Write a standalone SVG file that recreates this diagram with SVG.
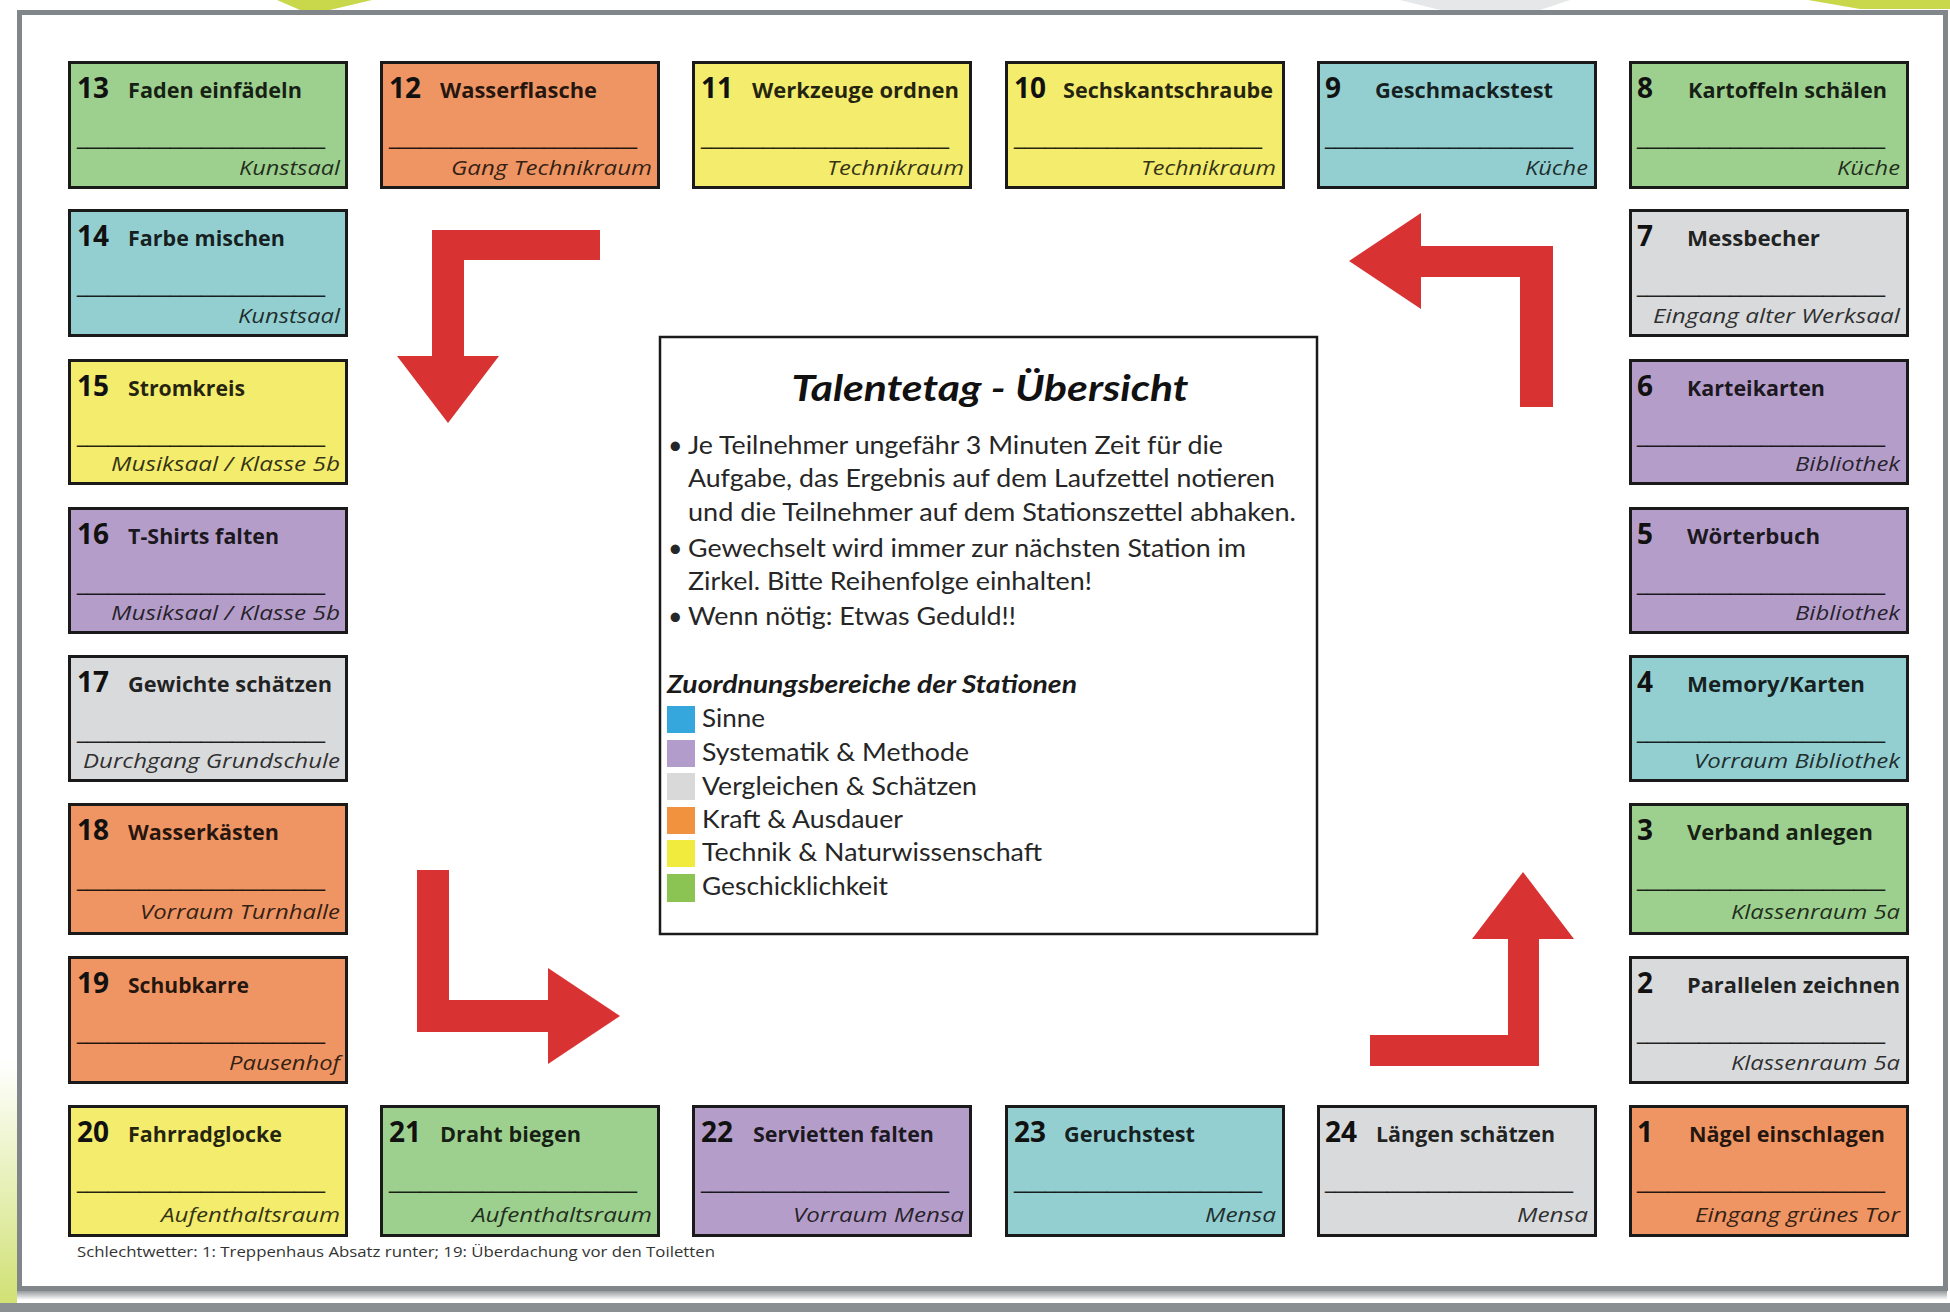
<svg xmlns="http://www.w3.org/2000/svg" width="1950" height="1312" viewBox="0 0 1950 1312">
<defs>
<linearGradient id="leftDeco" x1="0" y1="0" x2="0" y2="1">
<stop offset="0" stop-color="#ffffff"/>
<stop offset="1" stop-color="#cfe070"/>
</linearGradient>
<linearGradient id="shadow" x1="0" y1="0" x2="0" y2="1">
<stop offset="0" stop-color="#8a8f92"/>
<stop offset="1" stop-color="#ffffff"/>
</linearGradient>
</defs>
<style>
.box{stroke:#1a1a1a;stroke-width:3}
.green{fill:#9dd08e}.orange{fill:#ee9563}.yellow{fill:#f3ec6c}.teal{fill:#93cfd0}.gray{fill:#d9dadc}.purple{fill:#b49ec9}
.num{font-family:"Open Sans","Liberation Sans",sans-serif;font-weight:700;font-size:28px;fill:#111}
.name{font-family:"Open Sans","Liberation Sans",sans-serif;font-weight:700;font-size:21px;fill:#000;fill-opacity:.85}
.ul{font-family:"Liberation Sans",sans-serif;font-size:23px;fill:#000;fill-opacity:.85;transform:translate(0,-2px)}
.loc{font-family:"Open Sans","Liberation Sans",sans-serif;font-style:italic;font-size:20px;fill:#000;fill-opacity:.8;text-anchor:end}
.arrow{fill:#d93232}
.ctext{font-family:Lato,"Open Sans",sans-serif;font-size:25px;fill:#262626}
.title{font-family:Lato,"Open Sans",sans-serif;font-size:37px;font-weight:700;font-style:italic;fill:#111;text-anchor:middle}
.sub{font-family:Lato,"Open Sans",sans-serif;font-size:24px;font-weight:700;font-style:italic;fill:#1a1a1a}
.foot{font-family:"Open Sans","Liberation Sans",sans-serif;font-size:14px;fill:#333}
</style>

<!-- background decorations -->
<rect x="0" y="0" width="1950" height="1312" fill="#ffffff"/>
<polygon points="277,0 372,0 330,10 300,10" fill="#c9d84a"/>
<polygon points="1400,0 1570,0 1540,10 1440,10" fill="#e6e7e8"/>
<polygon points="1808,0 1950,0 1950,9 1860,9" fill="#c9d84a"/>
<rect x="0" y="1060" width="17" height="252" fill="url(#leftDeco)"/>
<rect x="17" y="1290" width="1930" height="10" fill="url(#shadow)"/>
<rect x="0" y="1303" width="1950" height="9" fill="#8a8f92"/>

<!-- page -->
<rect x="19.5" y="12.5" width="1926" height="1276" fill="#ffffff" stroke="#80868a" stroke-width="5"/>

<!-- connectors (red arrows) -->
<g id="connectors">
<polygon class="arrow" points="432,230 600,230 600,260 464,260 464,356 499,356 448,423 397,356 432,356"/>
<polygon class="arrow" points="417,870 449,870 449,1000 548,1000 548,968 620,1016 548,1064 548,1032 417,1032"/>
<polygon class="arrow" points="1370,1035 1508,1035 1508,939 1472,939 1523,872 1574,939 1539,939 1539,1066 1370,1066"/>
<polygon class="arrow" points="1553,246 1553,407 1520,407 1520,277 1421,277 1421,309 1349,261 1421,213 1421,246"/>
</g>

<!-- top row -->
<g id="station-13">
<rect class="box green" x="69.5" y="62.5" width="277" height="125"/>
<text class="num" x="77" y="98">13</text>
<text class="name" x="128" y="98" textLength="174" lengthAdjust="spacingAndGlyphs">Faden einfädeln</text>
<text class="ul" x="77" y="146" textLength="248" lengthAdjust="spacingAndGlyphs">________________________</text>
<text class="loc" x="340" y="175" textLength="101" lengthAdjust="spacingAndGlyphs">Kunstsaal</text>
</g>
<g id="station-12">
<rect class="box orange" x="381.5" y="62.5" width="277" height="125"/>
<text class="num" x="389" y="98">12</text>
<text class="name" x="440" y="98" textLength="157" lengthAdjust="spacingAndGlyphs">Wasserflasche</text>
<text class="ul" x="389" y="146" textLength="248" lengthAdjust="spacingAndGlyphs">________________________</text>
<text class="loc" x="652" y="175" textLength="201" lengthAdjust="spacingAndGlyphs">Gang Technikraum</text>
</g>
<g id="station-11">
<rect class="box yellow" x="693.5" y="62.5" width="277" height="125"/>
<text class="num" x="701" y="98">11</text>
<text class="name" x="752" y="98" textLength="207" lengthAdjust="spacingAndGlyphs">Werkzeuge ordnen</text>
<text class="ul" x="701" y="146" textLength="248" lengthAdjust="spacingAndGlyphs">________________________</text>
<text class="loc" x="964" y="175" textLength="137" lengthAdjust="spacingAndGlyphs">Technikraum</text>
</g>
<g id="station-10">
<rect class="box yellow" x="1006.5" y="62.5" width="277" height="125"/>
<text class="num" x="1014" y="98">10</text>
<text class="name" x="1063" y="98" textLength="210" lengthAdjust="spacingAndGlyphs">Sechskantschraube</text>
<text class="ul" x="1014" y="146" textLength="248" lengthAdjust="spacingAndGlyphs">________________________</text>
<text class="loc" x="1276" y="175" textLength="135" lengthAdjust="spacingAndGlyphs">Technikraum</text>
</g>
<g id="station-9">
<rect class="box teal" x="1318.5" y="62.5" width="277" height="125"/>
<text class="num" x="1325" y="98">9</text>
<text class="name" x="1375" y="98" textLength="178" lengthAdjust="spacingAndGlyphs">Geschmackstest</text>
<text class="ul" x="1325" y="146" textLength="248" lengthAdjust="spacingAndGlyphs">________________________</text>
<text class="loc" x="1588" y="175" textLength="63" lengthAdjust="spacingAndGlyphs">Küche</text>
</g>
<g id="station-8">
<rect class="box green" x="1630.5" y="62.5" width="277" height="125"/>
<text class="num" x="1637" y="98">8</text>
<text class="name" x="1688" y="98" textLength="199" lengthAdjust="spacingAndGlyphs">Kartoffeln schälen</text>
<text class="ul" x="1637" y="146" textLength="248" lengthAdjust="spacingAndGlyphs">________________________</text>
<text class="loc" x="1900" y="175" textLength="63" lengthAdjust="spacingAndGlyphs">Küche</text>
</g>

<!-- left column -->
<g id="station-14">
<rect class="box teal" x="69.5" y="210.5" width="277" height="125"/>
<text class="num" x="77" y="246">14</text>
<text class="name" x="128" y="246" textLength="157" lengthAdjust="spacingAndGlyphs">Farbe mischen</text>
<text class="ul" x="77" y="294" textLength="248" lengthAdjust="spacingAndGlyphs">________________________</text>
<text class="loc" x="340" y="323" textLength="102" lengthAdjust="spacingAndGlyphs">Kunstsaal</text>
</g>
<g id="station-15">
<rect class="box yellow" x="69.5" y="360.5" width="277" height="123"/>
<text class="num" x="77" y="396">15</text>
<text class="name" x="128" y="396" textLength="117" lengthAdjust="spacingAndGlyphs">Stromkreis</text>
<text class="ul" x="77" y="444" textLength="248" lengthAdjust="spacingAndGlyphs">________________________</text>
<text class="loc" x="340" y="471" textLength="229" lengthAdjust="spacingAndGlyphs">Musiksaal / Klasse 5b</text>
</g>
<g id="station-16">
<rect class="box purple" x="69.5" y="508.5" width="277" height="124"/>
<text class="num" x="77" y="544">16</text>
<text class="name" x="128" y="544" textLength="151" lengthAdjust="spacingAndGlyphs">T-Shirts falten</text>
<text class="ul" x="77" y="592" textLength="248" lengthAdjust="spacingAndGlyphs">________________________</text>
<text class="loc" x="340" y="620" textLength="229" lengthAdjust="spacingAndGlyphs">Musiksaal / Klasse 5b</text>
</g>
<g id="station-17">
<rect class="box gray" x="69.5" y="656.5" width="277" height="124"/>
<text class="num" x="77" y="692">17</text>
<text class="name" x="128" y="692" textLength="204" lengthAdjust="spacingAndGlyphs">Gewichte schätzen</text>
<text class="ul" x="77" y="740" textLength="248" lengthAdjust="spacingAndGlyphs">________________________</text>
<text class="loc" x="340" y="768" textLength="257" lengthAdjust="spacingAndGlyphs">Durchgang Grundschule</text>
</g>
<g id="station-18">
<rect class="box orange" x="69.5" y="804.5" width="277" height="129"/>
<text class="num" x="77" y="840">18</text>
<text class="name" x="128" y="840" textLength="151" lengthAdjust="spacingAndGlyphs">Wasserkästen</text>
<text class="ul" x="77" y="888" textLength="248" lengthAdjust="spacingAndGlyphs">________________________</text>
<text class="loc" x="340" y="919" textLength="200" lengthAdjust="spacingAndGlyphs">Vorraum Turnhalle</text>
</g>
<g id="station-19">
<rect class="box orange" x="69.5" y="957.5" width="277" height="125"/>
<text class="num" x="77" y="993">19</text>
<text class="name" x="128" y="993" textLength="121" lengthAdjust="spacingAndGlyphs">Schubkarre</text>
<text class="ul" x="77" y="1041" textLength="248" lengthAdjust="spacingAndGlyphs">________________________</text>
<text class="loc" x="340" y="1070" textLength="111" lengthAdjust="spacingAndGlyphs">Pausenhof</text>
</g>

<!-- bottom row -->
<g id="station-20">
<rect class="box yellow" x="69.5" y="1106.5" width="277" height="129"/>
<text class="num" x="77" y="1142">20</text>
<text class="name" x="128" y="1142" textLength="154" lengthAdjust="spacingAndGlyphs">Fahrradglocke</text>
<text class="ul" x="77" y="1190" textLength="248" lengthAdjust="spacingAndGlyphs">________________________</text>
<text class="loc" x="340" y="1222" textLength="179" lengthAdjust="spacingAndGlyphs">Aufenthaltsraum</text>
</g>
<g id="station-21">
<rect class="box green" x="381.5" y="1106.5" width="277" height="129"/>
<text class="num" x="389" y="1142">21</text>
<text class="name" x="440" y="1142" textLength="141" lengthAdjust="spacingAndGlyphs">Draht biegen</text>
<text class="ul" x="389" y="1190" textLength="248" lengthAdjust="spacingAndGlyphs">________________________</text>
<text class="loc" x="652" y="1222" textLength="180" lengthAdjust="spacingAndGlyphs">Aufenthaltsraum</text>
</g>
<g id="station-22">
<rect class="box purple" x="693.5" y="1106.5" width="277" height="129"/>
<text class="num" x="701" y="1142">22</text>
<text class="name" x="753" y="1142" textLength="181" lengthAdjust="spacingAndGlyphs">Servietten falten</text>
<text class="ul" x="701" y="1190" textLength="248" lengthAdjust="spacingAndGlyphs">________________________</text>
<text class="loc" x="964" y="1222" textLength="171" lengthAdjust="spacingAndGlyphs">Vorraum Mensa</text>
</g>
<g id="station-23">
<rect class="box teal" x="1006.5" y="1106.5" width="277" height="129"/>
<text class="num" x="1014" y="1142">23</text>
<text class="name" x="1064" y="1142" textLength="131" lengthAdjust="spacingAndGlyphs">Geruchstest</text>
<text class="ul" x="1014" y="1190" textLength="248" lengthAdjust="spacingAndGlyphs">________________________</text>
<text class="loc" x="1276" y="1222" textLength="71" lengthAdjust="spacingAndGlyphs">Mensa</text>
</g>
<g id="station-24">
<rect class="box gray" x="1318.5" y="1106.5" width="277" height="129"/>
<text class="num" x="1325" y="1142">24</text>
<text class="name" x="1376" y="1142" textLength="179" lengthAdjust="spacingAndGlyphs">Längen schätzen</text>
<text class="ul" x="1325" y="1190" textLength="248" lengthAdjust="spacingAndGlyphs">________________________</text>
<text class="loc" x="1588" y="1222" textLength="71" lengthAdjust="spacingAndGlyphs">Mensa</text>
</g>
<g id="station-1">
<rect class="box orange" x="1630.5" y="1106.5" width="277" height="129"/>
<text class="num" x="1637" y="1142">1</text>
<text class="name" x="1689" y="1142" textLength="196" lengthAdjust="spacingAndGlyphs">Nägel einschlagen</text>
<text class="ul" x="1637" y="1190" textLength="248" lengthAdjust="spacingAndGlyphs">________________________</text>
<text class="loc" x="1900" y="1222" textLength="205" lengthAdjust="spacingAndGlyphs">Eingang grünes Tor</text>
</g>

<!-- right column -->
<g id="station-7">
<rect class="box gray" x="1630.5" y="210.5" width="277" height="125"/>
<text class="num" x="1637" y="246">7</text>
<text class="name" x="1687" y="246" textLength="133" lengthAdjust="spacingAndGlyphs">Messbecher</text>
<text class="ul" x="1637" y="294" textLength="248" lengthAdjust="spacingAndGlyphs">________________________</text>
<text class="loc" x="1900" y="323" textLength="247" lengthAdjust="spacingAndGlyphs">Eingang alter Werksaal</text>
</g>
<g id="station-6">
<rect class="box purple" x="1630.5" y="360.5" width="277" height="123"/>
<text class="num" x="1637" y="396">6</text>
<text class="name" x="1687" y="396" textLength="138" lengthAdjust="spacingAndGlyphs">Karteikarten</text>
<text class="ul" x="1637" y="444" textLength="248" lengthAdjust="spacingAndGlyphs">________________________</text>
<text class="loc" x="1900" y="471" textLength="105" lengthAdjust="spacingAndGlyphs">Bibliothek</text>
</g>
<g id="station-5">
<rect class="box purple" x="1630.5" y="508.5" width="277" height="124"/>
<text class="num" x="1637" y="544">5</text>
<text class="name" x="1687" y="544" textLength="133" lengthAdjust="spacingAndGlyphs">Wörterbuch</text>
<text class="ul" x="1637" y="592" textLength="248" lengthAdjust="spacingAndGlyphs">________________________</text>
<text class="loc" x="1900" y="620" textLength="105" lengthAdjust="spacingAndGlyphs">Bibliothek</text>
</g>
<g id="station-4">
<rect class="box teal" x="1630.5" y="656.5" width="277" height="124"/>
<text class="num" x="1637" y="692">4</text>
<text class="name" x="1687" y="692" textLength="178" lengthAdjust="spacingAndGlyphs">Memory/Karten</text>
<text class="ul" x="1637" y="740" textLength="248" lengthAdjust="spacingAndGlyphs">________________________</text>
<text class="loc" x="1900" y="768" textLength="206" lengthAdjust="spacingAndGlyphs">Vorraum Bibliothek</text>
</g>
<g id="station-3">
<rect class="box green" x="1630.5" y="804.5" width="277" height="129"/>
<text class="num" x="1637" y="840">3</text>
<text class="name" x="1687" y="840" textLength="186" lengthAdjust="spacingAndGlyphs">Verband anlegen</text>
<text class="ul" x="1637" y="888" textLength="248" lengthAdjust="spacingAndGlyphs">________________________</text>
<text class="loc" x="1900" y="919" textLength="169" lengthAdjust="spacingAndGlyphs">Klassenraum 5a</text>
</g>
<g id="station-2">
<rect class="box gray" x="1630.5" y="957.5" width="277" height="125"/>
<text class="num" x="1637" y="993">2</text>
<text class="name" x="1687" y="993" textLength="213" lengthAdjust="spacingAndGlyphs">Parallelen zeichnen</text>
<text class="ul" x="1637" y="1041" textLength="248" lengthAdjust="spacingAndGlyphs">________________________</text>
<text class="loc" x="1900" y="1070" textLength="169" lengthAdjust="spacingAndGlyphs">Klassenraum 5a</text>
</g>

<!-- center overview box -->
<g id="overview">
<rect x="660" y="337" width="657" height="597" fill="#ffffff" stroke="#1a1a1a" stroke-width="2.5"/>
<text class="title" x="990" y="401" textLength="397" lengthAdjust="spacingAndGlyphs">Talentetag - Übersicht</text>
<text class="ctext" x="668" y="454">•</text>
<text class="ctext" x="688" y="454" textLength="535" lengthAdjust="spacingAndGlyphs">Je Teilnehmer ungefähr 3 Minuten Zeit für die</text>
<text class="ctext" x="688" y="487" textLength="587" lengthAdjust="spacingAndGlyphs">Aufgabe, das Ergebnis auf dem Laufzettel notieren</text>
<text class="ctext" x="688" y="521" textLength="608" lengthAdjust="spacingAndGlyphs">und die Teilnehmer auf dem Stationszettel abhaken.</text>
<text class="ctext" x="668" y="557">•</text>
<text class="ctext" x="688" y="557" textLength="558" lengthAdjust="spacingAndGlyphs">Gewechselt wird immer zur nächsten Station im</text>
<text class="ctext" x="688" y="590" textLength="404" lengthAdjust="spacingAndGlyphs">Zirkel. Bitte Reihenfolge einhalten!</text>
<text class="ctext" x="668" y="625">•</text>
<text class="ctext" x="688" y="625" textLength="328" lengthAdjust="spacingAndGlyphs">Wenn nötig: Etwas Geduld!!</text>
<text class="sub" x="667" y="693" textLength="410" lengthAdjust="spacingAndGlyphs">Zuordnungsbereiche der Stationen</text>
<g id="legend">
<rect x="667" y="706" width="28" height="27" fill="#35a7dc"/>
<text class="ctext" x="702" y="727" textLength="63" lengthAdjust="spacingAndGlyphs">Sinne</text>
<rect x="667" y="740" width="28" height="27" fill="#b19ccc"/>
<text class="ctext" x="702" y="761" textLength="267" lengthAdjust="spacingAndGlyphs">Systematik &amp; Methode</text>
<rect x="667" y="773" width="28" height="27" fill="#d9d9d9"/>
<text class="ctext" x="702" y="795" textLength="275" lengthAdjust="spacingAndGlyphs">Vergleichen &amp; Schätzen</text>
<rect x="667" y="807" width="28" height="27" fill="#f0923e"/>
<text class="ctext" x="702" y="828" textLength="201" lengthAdjust="spacingAndGlyphs">Kraft &amp; Ausdauer</text>
<rect x="667" y="840" width="28" height="27" fill="#f0eb3c"/>
<text class="ctext" x="702" y="861" textLength="340" lengthAdjust="spacingAndGlyphs">Technik &amp; Naturwissenschaft</text>
<rect x="667" y="874" width="28" height="28" fill="#8cc453"/>
<text class="ctext" x="702" y="895" textLength="186" lengthAdjust="spacingAndGlyphs">Geschicklichkeit</text>
</g>
</g>

<text class="foot" x="77" y="1257" textLength="638" lengthAdjust="spacingAndGlyphs">Schlechtwetter: 1: Treppenhaus Absatz runter; 19: Überdachung vor den Toiletten</text>
</svg>
